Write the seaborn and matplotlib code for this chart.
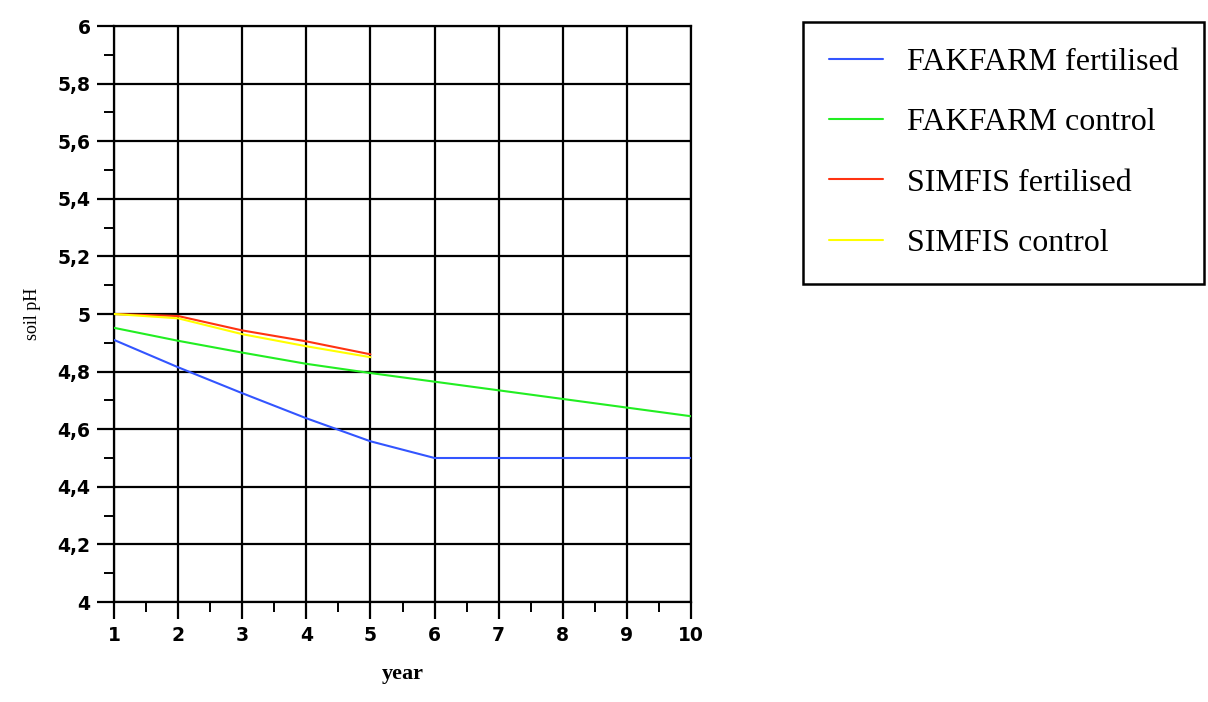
import matplotlib
matplotlib.use("Agg")
import matplotlib.pyplot as plt
import seaborn as sns
import pandas as pd
from matplotlib.ticker import MultipleLocator, FuncFormatter
from matplotlib.lines import Line2D

years_long = [1, 2, 3, 4, 5, 6, 7, 8, 9, 10]
years_short = [1, 2, 3, 4, 5]
fakfarm_fert = [4.91, 4.815, 4.725, 4.638, 4.558, 4.50, 4.50, 4.50, 4.50, 4.50]
fakfarm_ctrl = [4.952, 4.907, 4.866, 4.827, 4.795, 4.765, 4.735, 4.705, 4.675, 4.645]
simfis_fert = [5.0, 4.993, 4.943, 4.905, 4.86]
simfis_ctrl = [5.0, 4.985, 4.93, 4.888, 4.85]
series_names = ["FAKFARM fertilised", "FAKFARM control", "SIMFIS fertilised", "SIMFIS control"]
colors = ["#3355ff", "#22ee22", "#ff3311", "#ffff00"]
yticks = [4.0, 4.2, 4.4, 4.6, 4.8, 5.0, 5.2, 5.4, 5.6, 5.8, 6.0]

rows = []
for name, xs, ys in [(series_names[0], years_long, fakfarm_fert),
                     (series_names[1], years_long, fakfarm_ctrl),
                     (series_names[2], years_short, simfis_fert),
                     (series_names[3], years_short, simfis_ctrl)]:
    for x, y in zip(xs, ys):
        rows.append({"year": x, "pH": y, "series": name})
df = pd.DataFrame(rows)

sns.set_style("white")
plt.rcParams['font.family'] = ['DejaVu Sans']
plt.rcParams['text.color'] = 'black'
plt.rcParams['axes.labelcolor'] = 'black'

fig = plt.figure(figsize=(12.08, 7.02), dpi=100)
ax = fig.add_axes([114/1208, 1-602/702, (691-114)/1208, (602-26)/702])

sns.lineplot(data=df, x="year", y="pH", hue="series", hue_order=series_names,
             palette=colors, linewidth=1.5, ax=ax, legend=False, zorder=3)

ax.set_xlim(1, 10)
ax.set_ylim(4, 6)
ax.set_xticks(years_long)
ax.set_yticks(yticks)
ax.xaxis.set_minor_locator(MultipleLocator(0.5))
ax.yaxis.set_minor_locator(MultipleLocator(0.1))
ax.yaxis.set_major_formatter(FuncFormatter(lambda v, p: ("%g" % round(v, 1)).replace(".", ",")))
ax.grid(True, which="major", color="black", linewidth=1.6, zorder=1)
ax.set_axisbelow(True)
for s in ax.spines.values():
    s.set_color("black")
    s.set_linewidth(1.6)
ax.tick_params(which="both", bottom=True, left=True, top=False, right=False)
ax.tick_params(which="major", direction="out", length=12, width=1.6, colors="black",
               labelsize=13.5, pad=5, labelcolor="black")
ax.tick_params(which="minor", direction="out", length=7, width=1.4, colors="black")
for lab in ax.get_xticklabels() + ax.get_yticklabels():
    lab.set_fontweight("bold")

ax.set_xlabel("year", fontsize=16, fontweight="bold", family="Liberation Serif", labelpad=14)
ax.set_ylabel("soil pH", fontsize=13, family="Liberation Serif", labelpad=12)

handles = [Line2D([0], [0], color=c, linewidth=1.5) for c in colors]
leg = fig.legend(handles, series_names, loc="upper left",
                 bbox_to_anchor=(803/1208, 1-22/702), frameon=True, fancybox=False,
                 framealpha=1.0,
                 prop={"family": "Liberation Serif", "size": 23},
                 handlelength=1.7, handletextpad=0.75, labelspacing=0.97,
                 borderpad=0.8, borderaxespad=0)
for t in leg.get_texts():
    t.set_color("black")
leg.get_frame().set_edgecolor("black")
leg.get_frame().set_linewidth(1.8)

fig.savefig("out.png", dpi=100)
